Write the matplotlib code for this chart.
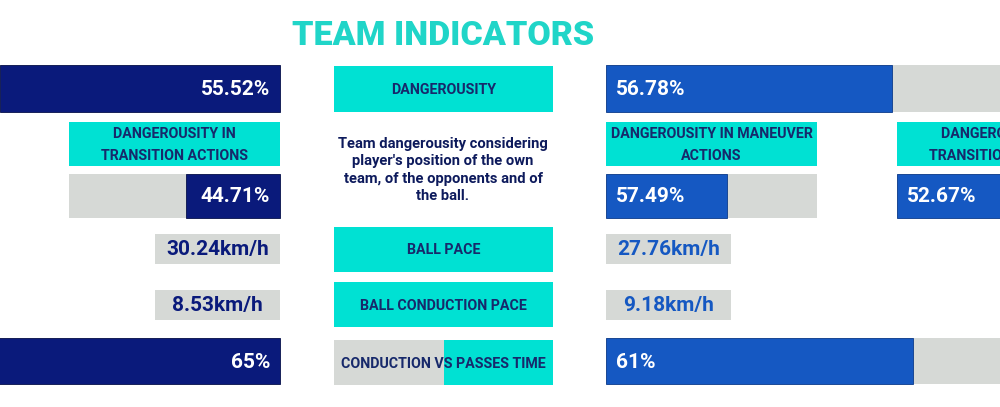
import matplotlib.pyplot as plt

# data
title = "TEAM INDICATORS"
metrics = ["DANGEROUSITY", "BALL PACE", "BALL CONDUCTION PACE", "CONDUCTION VS PASSES TIME"]
description = "Team dangerousity considering\nplayer's position of the own\nteam, of the opponents and of\nthe ball."

left_dang = 55.52
right_dang = 56.78
left_cond = 65
right_cond = 61

sub_labels = ["DANGEROUSITY IN\nTRANSITION ACTIONS", "DANGEROUSITY IN MANEUVER\nACTIONS", "DANGEROUSITY IN\nTRANSITION ACTIONS"]
sub_values = [44.71, 57.49, 52.67]  # left transition, right maneuver, right transition

left_speeds = [30.24, 8.53]
right_speeds = [27.76, 9.18]

# colours
navy = "#0a1a7b"
blue = "#1558c2"
grey = "#d6d9d6"
turq = "#00e1d3"
title_col = "#20d5c8"
label_col = "#17296b"
desc_col = "#0d1a5c"

plt.rcParams['font.family'] = ['Roboto', 'DejaVu Sans']

fig = plt.figure(figsize=(10, 4.07), dpi=100)
ax = fig.add_axes([0, 0, 1, 1])
ax.set_xlim(0, 1000)
ax.set_ylim(407, 0)
ax.axis('off')

big_w = 504     # width of a full 100% bar
sub_w = 211
spd_w = 125
L_end = 280     # left side bars end here (they grow to the left)
R_start = 606   # right side bars start here
R2_start = 897
mid_x, mid_w = 334, 219


def pct_bar(y, h, val, col, side, x0, full):
    w = val / 100 * full
    if side == 'left':
        ax.barh(y, full, height=h, left=x0 - full, color=grey)
        ax.barh(y, w, height=h, left=x0 - w, color=col, edgecolor='#06104a', linewidth=0.6)
        ax.text(x0 - 10, y + 1, f"{val:g}%", ha='right', va='center', color='white',
                fontsize=15, fontweight='bold')
    else:
        ax.barh(y, full, height=h, left=x0, color=grey)
        ax.barh(y, w, height=h, left=x0, color=col, edgecolor='#0b3a8a', linewidth=0.6)
        ax.text(x0 + 10, y + 1, f"{val:g}%", ha='left', va='center', color='white',
                fontsize=15, fontweight='bold')


def label_box(x, y, w, h, txt, fs=10.3):
    ax.barh(y, w, height=h, left=x, color=turq)
    ax.text(x + w / 2, y + 1, txt, ha='center', va='center', color=label_col,
            fontsize=fs, fontweight='bold', linespacing=1.75)


# title
ax.text(443, 36, title, ha='center', va='center', color=title_col, fontsize=24.5, fontweight='black')

# row 1 - dangerousity
pct_bar(88.5, 47, left_dang, navy, 'left', L_end, big_w)
pct_bar(88.5, 47, right_dang, blue, 'right', R_start, big_w)
label_box(mid_x, 89, mid_w, 46, metrics[0])

# sub dangerousity labels
label_box(L_end - sub_w, 144, sub_w, 44, sub_labels[0])
label_box(R_start, 144, sub_w, 44, sub_labels[1])
label_box(R2_start, 144, sub_w, 44, sub_labels[2])

pct_bar(196, 44, sub_values[0], navy, 'left', L_end, sub_w)
pct_bar(196, 44, sub_values[1], blue, 'right', R_start, sub_w)
pct_bar(196, 44, sub_values[2], blue, 'right', R2_start, sub_w)

ax.text(443, 170, description, ha='center', va='center', color=desc_col,
        fontsize=10.6, fontweight='bold', linespacing=1.32)

# speeds
spd_y = [249, 304.5]
for i, y in enumerate(spd_y):
    ax.barh(y, spd_w, height=30, left=L_end - spd_w, color=grey)
    ax.text(L_end - spd_w / 2, y + 1, f"{left_speeds[i]:.2f}km/h", ha='center', va='center',
            color=navy, fontsize=15, fontweight='bold')
    ax.barh(y, spd_w, height=30, left=R_start, color=grey)
    ax.text(R_start + spd_w / 2, y + 1, f"{right_speeds[i]:.2f}km/h", ha='center', va='center',
            color=blue, fontsize=15, fontweight='bold')

label_box(mid_x, 249.5, mid_w, 45, metrics[1])
label_box(mid_x, 304.5, mid_w, 45, metrics[2])

# conduction vs passes
pct_bar(361, 46, left_cond, navy, 'left', L_end, big_w)
pct_bar(361, 46, right_cond, blue, 'right', R_start, big_w)
ax.barh(362.5, mid_w / 2, height=45, left=mid_x, color=grey)
ax.barh(362.5, mid_w / 2, height=45, left=mid_x + mid_w / 2, color=turq)
ax.text(mid_x + mid_w / 2, 363.5, metrics[3], ha='center', va='center', color=label_col,
        fontsize=10.3, fontweight='bold')

fig.savefig('out.png', dpi=100, facecolor='white')
